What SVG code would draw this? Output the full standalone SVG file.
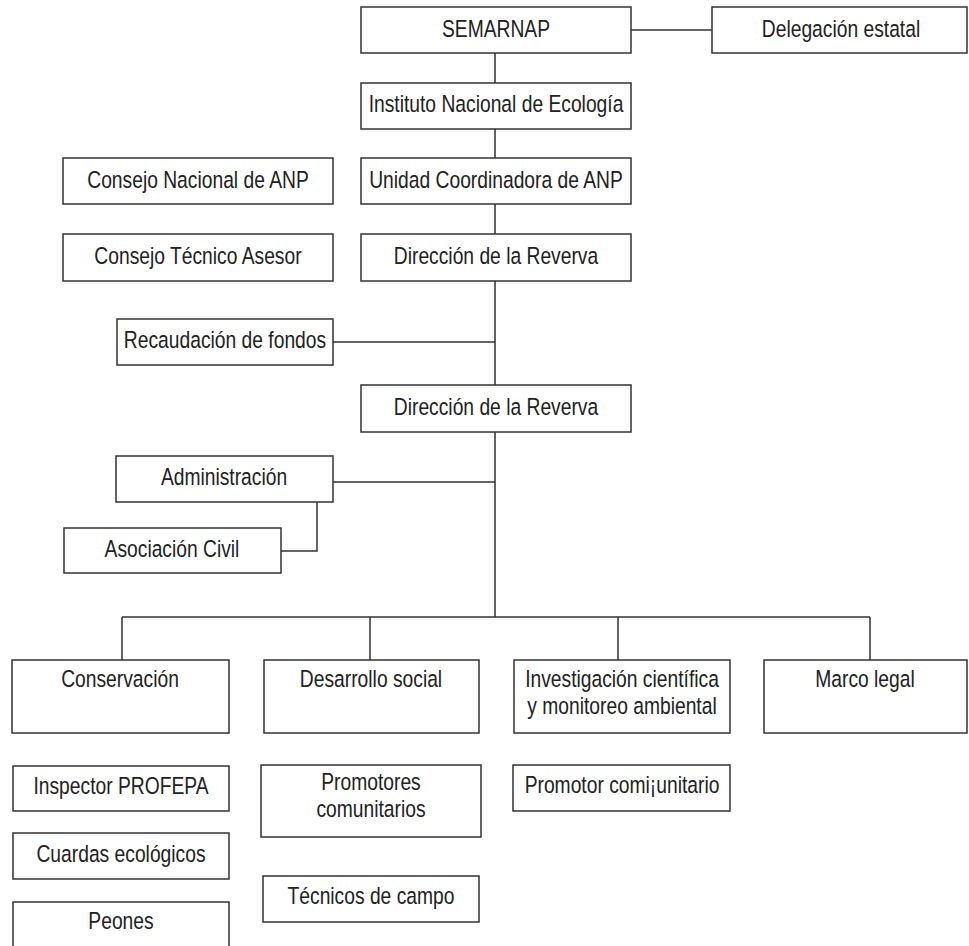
<svg xmlns="http://www.w3.org/2000/svg" width="969" height="946" viewBox="0 0 969 946">
<style>
.b{fill:#fff;stroke:#333;stroke-width:1.5}
.t{font-family:"Liberation Sans",Arial,sans-serif;font-size:23.5px;fill:#222;text-anchor:middle}
.c{fill:none;stroke:#333;stroke-width:1.5}
</style>
<rect width="969" height="946" fill="#fff"/>
<g id="connectors">
<path class="c" d="M631 30H712"/>
<path class="c" d="M495 53V83M495 129V158M495 204V234M495 281V385M495 432V617"/>
<path class="c" d="M333 342H495"/>
<path class="c" d="M333 482H495"/>
<path class="c" d="M317 502V551H281"/>
<path class="c" d="M122 617H870M122 617V660M370 617V660M618 617V660M870 617V660"/>
</g>
<g id="semarnap"><rect class="b" x="361" y="7" width="270" height="46"/><text class="t" transform="matrix(0.82 0 0 1 496 37)">SEMARNAP</text></g>
<g id="delegacion"><rect class="b" x="712" y="7" width="255" height="46"/><text class="t" transform="matrix(0.82 0 0 1 841 37)">Delegación estatal</text></g>
<g id="instituto"><rect class="b" x="361" y="83" width="270" height="46"/><text class="t" transform="matrix(0.82 0 0 1 496 112)">Instituto Nacional de Ecología</text></g>
<g id="consejo-nacional"><rect class="b" x="63" y="158" width="270" height="46"/><text class="t" transform="matrix(0.82 0 0 1 198 188)">Consejo Nacional de ANP</text></g>
<g id="unidad"><rect class="b" x="361" y="158" width="270" height="46"/><text class="t" transform="matrix(0.82 0 0 1 496 188)">Unidad Coordinadora de ANP</text></g>
<g id="consejo-tecnico"><rect class="b" x="63" y="234" width="270" height="47"/><text class="t" transform="matrix(0.82 0 0 1 198 264)">Consejo Técnico Asesor</text></g>
<g id="direccion1"><rect class="b" x="361" y="234" width="270" height="47"/><text class="t" transform="matrix(0.82 0 0 1 496 264)">Dirección de la Reverva</text></g>
<g id="recaudacion"><rect class="b" x="117" y="319" width="216" height="46"/><text class="t" transform="matrix(0.82 0 0 1 225 348)">Recaudación de fondos</text></g>
<g id="direccion2"><rect class="b" x="361" y="385" width="270" height="47"/><text class="t" transform="matrix(0.82 0 0 1 496 415)">Dirección de la Reverva</text></g>
<g id="administracion"><rect class="b" x="116" y="456" width="217" height="46"/><text class="t" transform="matrix(0.82 0 0 1 224 485)">Administración</text></g>
<g id="asociacion"><rect class="b" x="64" y="528" width="217" height="45"/><text class="t" transform="matrix(0.82 0 0 1 172 557)">Asociación Civil</text></g>
<g id="conservacion"><rect class="b" x="12" y="660" width="217" height="73"/><text class="t" transform="matrix(0.82 0 0 1 120 687)">Conservación</text></g>
<g id="desarrollo"><rect class="b" x="264" y="660" width="215" height="73"/><text class="t" transform="matrix(0.82 0 0 1 371 687)">Desarrollo social</text></g>
<g id="investigacion"><rect class="b" x="514" y="660" width="216" height="73"/><text class="t" transform="matrix(0.82 0 0 1 622 687)">Investigación científica</text><text class="t" transform="matrix(0.82 0 0 1 622 714)">y monitoreo ambiental</text></g>
<g id="marco"><rect class="b" x="764" y="660" width="203" height="73"/><text class="t" transform="matrix(0.82 0 0 1 865 687)">Marco legal</text></g>
<g id="inspector"><rect class="b" x="13" y="766" width="216" height="45"/><text class="t" transform="matrix(0.82 0 0 1 121 794)">Inspector PROFEPA</text></g>
<g id="cuardas"><rect class="b" x="13" y="833" width="216" height="46"/><text class="t" transform="matrix(0.82 0 0 1 121 862)">Cuardas ecológicos</text></g>
<g id="peones"><rect class="b" x="13" y="902" width="216" height="60"/><text class="t" transform="matrix(0.82 0 0 1 121 929)">Peones</text></g>
<g id="promotores"><rect class="b" x="261" y="765" width="220" height="72"/><text class="t" transform="matrix(0.82 0 0 1 371 790)">Promotores</text><text class="t" transform="matrix(0.82 0 0 1 371 817)">comunitarios</text></g>
<g id="tecnicos"><rect class="b" x="263" y="876" width="216" height="46"/><text class="t" transform="matrix(0.82 0 0 1 371 904)">Técnicos de campo</text></g>
<g id="promotor"><rect class="b" x="513" y="765" width="217" height="46"/><text class="t" transform="matrix(0.82 0 0 1 622 793)">Promotor comi¡unitario</text></g>
</svg>
